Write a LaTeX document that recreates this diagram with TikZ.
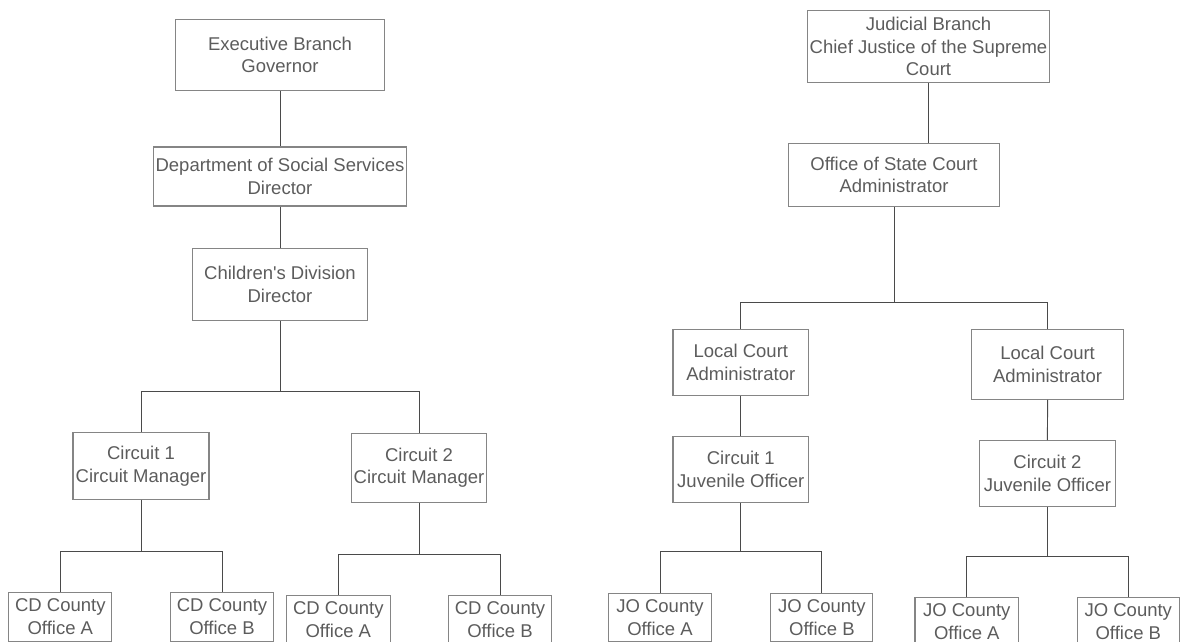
\documentclass[tikz,border=0pt]{standalone}
\usepackage{fontspec}
\setmainfont{Liberation Sans}
\definecolor{boxgray}{HTML}{858585}
\definecolor{txtgray}{HTML}{5C5C5C}
\definecolor{linegray}{HTML}{4A4A4A}
\tikzset{
  orgbox/.style={draw=boxgray, line width=1.1pt, text=txtgray, align=center,
    inner sep=0pt, font=\fontsize{18.5}{22.7}\selectfont},
  conn/.style={draw=linegray, line width=0.95pt}
}
% \obox{name}{cx}{cy}{width}{height}{text}
\newcommand\obox[6]{\node[orgbox, minimum width=#4pt, minimum height=#5pt] (#1) at (#2,#3) {#6};}
\begin{document}
\begin{tikzpicture}[x=1pt, y=-1pt]
\useasboundingbox (0,0) rectangle (1181,642);

% executive side
\obox{exec}{280}{55}{209}{71.4}{Executive Branch\\Governor}
\obox{dss}{280}{176.5}{253.3}{59}{Department of Social Services\\Director}
\obox{cdiv}{280}{284.3}{175}{72}{Children\textquotesingle s Division\\Director}
\obox{cmA}{141}{466}{136}{66.6}{Circuit 1\\Circuit Manager}
\obox{cmB}{419}{467.7}{135.5}{69.3}{Circuit 2\\Circuit Manager}
\obox{cdA1}{60.3}{616.8}{103}{48.5}{CD County\\Office A}
\obox{cdB1}{222}{616.8}{103}{48.5}{CD County\\Office B}
\obox{cdA2}{338.3}{619.6}{104}{48.5}{CD County\\Office A}
\obox{cdB2}{500}{619.6}{103}{48.5}{CD County\\Office B}

% judicial side
\obox{jud}{928.5}{46.4}{242}{72.2}{Judicial Branch\\Chief Justice of the Supreme\\Court}
\obox{osca}{894}{175}{211.4}{62.6}{Office of State Court\\Administrator}
\obox{lcA}{740.8}{362.3}{135.7}{66}{Local Court\\Administrator}
\obox{lcB}{1047.6}{364.3}{152.2}{70}{Local Court\\Administrator}
\obox{joA}{740.8}{469.7}{135.7}{66}{Circuit 1\\Juvenile Officer}
\obox{joB}{1047.4}{473.7}{136}{66}{Circuit 2\\Juvenile Officer}
\obox{joA1}{660}{617.6}{103}{48.5}{JO County\\Office A}
\obox{joB1}{821.9}{617.6}{102}{48.5}{JO County\\Office B}
\obox{joA2}{966.8}{621.6}{103.6}{48.5}{JO County\\Office A}
\obox{joB2}{1128.3}{621.6}{102}{48.5}{JO County\\Office B}

% bus junctions
\coordinate (busCD) at (280,391);
\coordinate (busCM1) at (141,551);
\coordinate (busCM2) at (419,554);
\coordinate (busOS) at (894,302.7);
\coordinate (busJO1) at (740.8,551.7);
\coordinate (busJO2) at (1047.4,556);

% executive connectors
\draw[conn] (exec.south) -- (dss.north);
\draw[conn] (dss.south) -- (cdiv.north);
\draw[conn] (cdiv.south) -- (busCD);
\draw[conn] (busCD) -| (cmA.north);
\draw[conn] (busCD) -| (cmB.north);
\draw[conn] (cmA.south) -- (busCM1);
\draw[conn] (busCM1) -| (cdA1.north);
\draw[conn] (busCM1) -| (cdB1.north);
\draw[conn] (cmB.south) -- (busCM2);
\draw[conn] (busCM2) -| (cdA2.north);
\draw[conn] (busCM2) -| (cdB2.north);

% judicial connectors
\draw[conn] (jud.south) -- (jud.south |- osca.north);
\draw[conn] (osca.south) -- (busOS);
\draw[conn] (busOS) -| (lcA.north);
\draw[conn] (busOS) -| (lcB.north);
\draw[conn] (lcA.south) -- (joA.north);
\draw[conn] (lcB.south) -- (joB.north);
\draw[conn] (joA.south) -- (busJO1);
\draw[conn] (busJO1) -| (joA1.north);
\draw[conn] (busJO1) -| (joB1.north);
\draw[conn] (joB.south) -- (busJO2);
\draw[conn] (busJO2) -| (joA2.north);
\draw[conn] (busJO2) -| (joB2.north);
\end{tikzpicture}
\end{document}
